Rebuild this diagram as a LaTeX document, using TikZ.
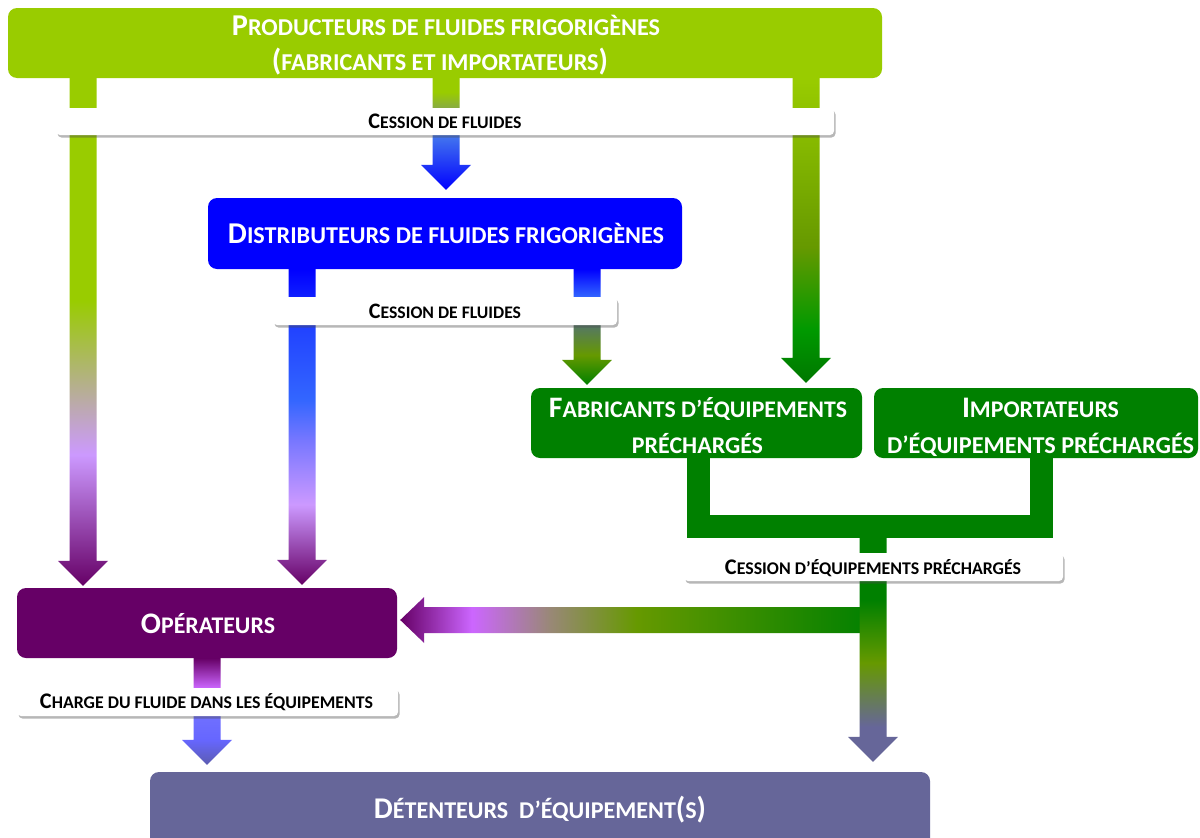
\documentclass[tikz,border=0pt]{standalone}
\usepackage{fontspec}
\setmainfont{Carlito}
\usepackage{graphicx}
\usetikzlibrary{calc,shadows}

\definecolor{cLime}{HTML}{99CC00}
\definecolor{cBlue}{HTML}{0000FF}
\definecolor{cMid}{HTML}{3366FF}
\definecolor{cOlive}{HTML}{669900}
\definecolor{cGreen}{HTML}{008000}
\definecolor{cLav}{HTML}{CC99FF}
\definecolor{cPlum}{HTML}{660066}
\definecolor{cViol}{HTML}{CC66FF}
\definecolor{cSlate}{HTML}{666699}
\definecolor{cPeri}{HTML}{6666FF}
\definecolor{cGA}{HTML}{88AA44}
\definecolor{cBA}{HTML}{4477EE}
\definecolor{cGnine}{HTML}{009900}
\definecolor{cGseven}{HTML}{007700}
\definecolor{cBtwo}{HTML}{2244FF}
\definecolor{cBseven}{HTML}{7777FF}
\definecolor{cGrey}{HTML}{557766}
\definecolor{cTan}{HTML}{998877}
\definecolor{cPseven}{HTML}{7070FF}
\definecolor{cTip}{HTML}{5C5CB0}

% vertical shadings: 25bp = bottom (tip), 75bp = top
\pgfdeclareverticalshading{shA}{100bp}{color(0bp)=(cPlum); color(25bp)=(cPlum); color(37.9bp)=(cLav); color(53.1bp)=(cLime); color(75bp)=(cLime); color(100bp)=(cLime)}
\pgfdeclareverticalshading{shB}{100bp}{color(0bp)=(cBlue); color(25bp)=(cBlue); color(49.6bp)=(cBA); color(61.6bp)=(cGA); color(68.7bp)=(cLime); color(75bp)=(cLime); color(100bp)=(cLime)}
\pgfdeclareverticalshading{shC}{100bp}{color(0bp)=(cGseven); color(25bp)=(cGseven); color(33.7bp)=(cGnine); color(47.3bp)=(cOlive); color(75bp)=(cLime); color(100bp)=(cLime)}
\pgfdeclareverticalshading{shD}{100bp}{color(0bp)=(cPlum); color(25bp)=(cPlum); color(37.7bp)=(cLav); color(47.9bp)=(cBseven); color(54.3bp)=(cMid); color(65.3bp)=(cBtwo); color(75bp)=(cBlue); color(100bp)=(cBlue)}
\pgfdeclareverticalshading{shE}{100bp}{color(0bp)=(cGreen); color(25bp)=(cGreen); color(37.9bp)=(cOlive); color(50.9bp)=(cGrey); color(62.9bp)=(cMid); color(75bp)=(cBlue); color(100bp)=(cBlue)}
\pgfdeclareverticalshading{shF}{100bp}{color(0bp)=(cTip); color(25bp)=(cTip); color(36.7bp)=(cPeri); color(47.9bp)=(cPseven); color(61bp)=(cViol); color(75bp)=(cPlum); color(100bp)=(cPlum)}
\pgfdeclareverticalshading{shG}{100bp}{color(0bp)=(cSlate); color(25bp)=(cSlate); color(32.4bp)=(cSlate); color(46bp)=(cOlive); color(59.3bp)=(cGreen); color(75bp)=(cGreen); color(100bp)=(cGreen)}
% horizontal shading: 25bp = left (tip), 75bp = right
\pgfdeclarehorizontalshading{shH}{100bp}{color(0bp)=(cPlum); color(25bp)=(cPlum); color(32.6bp)=(cViol); color(40.8bp)=(cTan); color(50bp)=(cOlive); color(75bp)=(cGreen); color(100bp)=(cGreen)}

\newcommand\lc[1]{\scalebox{0.8}{#1}}
\newcommand\varr[3]{%
  \shade[shading=#1] let \p1=#2, \p2=#3 in
    (\x1-13.5pt,\y1) -- (\x1+13.5pt,\y1) -- (\x1+13.5pt,\y2+25pt) -- (\x1+25pt,\y2+25pt)
    -- (\x1,\y2) -- (\x1-25pt,\y2+25pt) -- (\x1-13.5pt,\y2+25pt) -- cycle;}
\newcommand\harr[3]{%
  \shade[shading=#1] let \p1=#2, \p2=#3 in
    (\x1,\y1+13pt) -- (\x2+24pt,\y1+13pt) -- (\x2+24pt,\y1+23pt) -- (\x2,\y1)
    -- (\x2+24pt,\y1-23pt) -- (\x2+24pt,\y1-13pt) -- (\x1,\y1-13pt) -- cycle;}

\begin{document}
\begin{tikzpicture}[x=1pt,y=-1pt,
  box/.style={rounded corners=9pt, inner sep=0pt, draw=none},
  lab/.style={fill=white, rounded corners=4pt, inner sep=0pt,
    drop shadow={shadow xshift=1.5pt, shadow yshift=-2.5pt, opacity=0.4, fill=black!70}},
  wt/.style={anchor=base, inner sep=0pt, text=white, font=\bfseries},
  bt/.style={anchor=base, inner sep=0pt, text=black, font=\bfseries}]
\useasboundingbox (0,0) rectangle (1200,838);
\fill[white] (0,0) rectangle (1200,838);

% boxes
\node[box, fill=cLime, minimum width=874pt, minimum height=70pt] (prod) at (445,43) {};
\node[box, fill=cBlue, minimum width=474pt, minimum height=71pt] (dist) at (445,233.5) {};
\node[box, fill=cGreen, minimum width=331pt, minimum height=70pt] (fab) at (696.5,423) {};
\node[box, fill=cGreen, minimum width=324pt, minimum height=70pt] (imp) at (1036,423) {};
\node[box, fill=cPlum, minimum width=380pt, minimum height=70pt] (op) at (207,623) {};
\node[box, fill=cSlate, minimum width=780pt, minimum height=80pt] (det) at (540,812) {};

% x positions of the arrows
\coordinate (xA) at (83,0);
\coordinate (xB) at (446,0);
\coordinate (xC) at (806,0);
\coordinate (xD) at (302,0);
\coordinate (xE) at (587,0);
\coordinate (xF) at (207,0);
\coordinate (xFab) at (698.5,0);
\coordinate (xImp) at (1041,0);
\coordinate (junc) at (873,526);
\coordinate (hstart) at (873,620);

% arrows
\varr{shA}{(prod.south -| xA)}{($(op.north -| xA)+(0,-2)$)}
\varr{shB}{(prod.south -| xB)}{($(dist.north -| xB)+(0,-8)$)}
\varr{shC}{(prod.south -| xC)}{($(fab.north -| xC)+(0,-5)$)}
\varr{shD}{(dist.south -| xD)}{($(op.north -| xD)+(0,-3)$)}
\varr{shE}{(dist.south -| xE)}{($(fab.north -| xE)+(0,-3)$)}
\harr{shH}{(hstart)}{($(op.east |- hstart)+(3,0)$)}
\draw[cGreen, line width=23pt, line join=miter] (fab.south -| xFab) |- (junc) -| (imp.south -| xImp);
\varr{shG}{(junc)}{($(det.north -| junc)+(0,-10)$)}
\varr{shF}{(op.south -| xF)}{($(det.north -| xF)+(0,-7)$)}

% labels
\node[lab, minimum width=778pt, minimum height=27pt] (l1) at (445,121.5) {};
\node[lab, minimum width=344pt, minimum height=28pt] (l2) at (445,311) {};
\node[lab, minimum width=379pt, minimum height=28pt] (l3) at (873.5,567) {};
\node[lab, minimum width=381pt, minimum height=28pt] (l4) at (207.5,702) {};

% texts
\node[wt] (prodt1) at (446,35) {\resizebox{428pt}{!}{P\lc{RODUCTEURS DE FLUIDES FRIGORIGÈNES}}};
\node[wt] (prodt2) at (440,70) {\resizebox{336pt}{!}{(\lc{FABRICANTS ET IMPORTATEURS})}};
\node[wt] (distt) at (446,243) {\resizebox{436pt}{!}{D\lc{ISTRIBUTEURS DE FLUIDES FRIGORIGÈNES}}};
\node[wt] (fabt1) at (698,417) {\resizebox{298pt}{!}{F\lc{ABRICANTS D’ÉQUIPEMENTS}}};
\node[wt] (fabt2) at (697.5,453) {\resizebox{131pt}{!}{\lc{PRÉCHARGÉS}}};
\node[wt] (impt1) at (1040.5,417) {\resizebox{157pt}{!}{I\lc{MPORTATEURS}}};
\node[wt] (impt2) at (1040.5,453) {\resizebox{307pt}{!}{\lc{D’ÉQUIPEMENTS PRÉCHARGÉS}}};
\node[wt] (opt) at (208,633) {\resizebox{134pt}{!}{O\lc{PÉRATEURS}}};
\node[wt] (dett) at (540,818) {\resizebox{332pt}{!}{D\lc{ÉTENTEURS\ \ D’ÉQUIPEMENT}(\lc{S})}};
\node[bt] (l1t) at (445,128) {\resizebox{153pt}{!}{C\lc{ESSION DE FLUIDES}}};
\node[bt] (l2t) at (445,318.5) {\resizebox{152pt}{!}{C\lc{ESSION DE FLUIDES}}};
\node[bt] (l3t) at (873,574) {\resizebox{296pt}{!}{C\lc{ESSION D’ÉQUIPEMENTS PRÉCHARGÉS}}};
\node[bt] (l4t) at (206.5,708) {\resizebox{333pt}{!}{C\lc{HARGE DU FLUIDE DANS LES ÉQUIPEMENTS}}};
\end{tikzpicture}
\end{document}
